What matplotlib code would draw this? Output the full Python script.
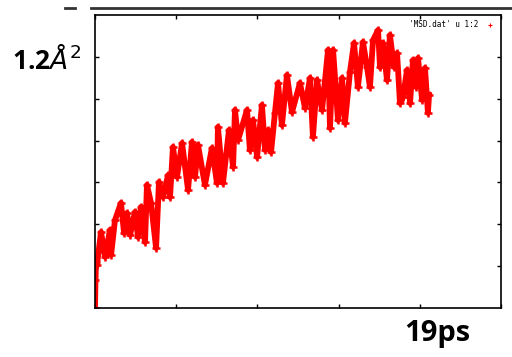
import matplotlib.pyplot as plt
from matplotlib.lines import Line2D

# MSD trace (time in ps, MSD in A^2)
time_ps = [0.00, 0.03, 0.06, 0.12, 0.37, 0.62, 0.92, 0.99, 1.23, 1.60, 1.79, 1.97,
           2.16, 2.46, 2.65, 2.83, 3.08, 3.20, 3.45, 3.76, 3.94, 4.19, 4.50, 4.62,
           4.80, 5.05, 5.36, 5.73, 5.97, 6.16, 6.34, 6.77, 7.20, 7.51, 7.57, 7.88,
           8.25, 8.50, 8.62, 8.81, 9.36, 9.54, 9.73, 9.98, 10.28, 10.47, 10.65, 10.84,
           11.08, 11.27, 11.51, 11.82, 12.13, 12.62, 12.93, 13.24, 13.42, 13.67, 13.98,
           14.35, 14.47, 14.66, 14.96, 15.21, 15.39, 15.70, 15.95, 16.19, 16.50, 16.75,
           16.93, 17.12, 17.43, 17.55, 17.73, 17.98, 18.16, 18.41, 18.60, 18.78, 18.97,
           19.21, 19.40, 19.58, 19.77, 19.89, 20.14, 20.32, 20.50, 20.57]
msd = [0.000, 0.134, 0.220, 0.205, 0.363, 0.244, 0.373, 0.253, 0.420, 0.502, 0.358, 0.454,
       0.349, 0.459, 0.339, 0.483, 0.315, 0.588, 0.502, 0.287, 0.602, 0.530, 0.635, 0.530,
       0.769, 0.626, 0.788, 0.564, 0.793, 0.626, 0.779, 0.588, 0.764, 0.597, 0.865, 0.597,
       0.850, 0.674, 0.946, 0.803, 0.946, 0.755, 0.898, 0.721, 0.970, 0.755, 0.850, 0.745,
       0.932, 1.075, 0.874, 1.113, 0.936, 1.075, 0.956, 1.099, 0.817, 1.089, 0.946,
       1.233, 0.860, 1.233, 0.898, 1.099, 0.884, 1.128, 1.266, 1.056, 1.271, 1.151,
       1.056, 1.280, 1.328, 1.151, 1.266, 1.089, 1.304, 1.151, 1.218, 0.979, 1.008,
       1.137, 0.979, 1.185, 1.056, 1.194, 0.994, 1.147, 0.932, 1.018]

fig = plt.figure(figsize=(5.12, 3.57), dpi=100)
ax = fig.add_axes([95 / 512, 49 / 357, 406 / 512, 293 / 357])

ax.plot(time_ps, msd, color="red", linewidth=4.2, marker="+", markersize=6,
        markeredgewidth=1.8, solid_joinstyle="round")

ax.set_xlim(0, 25)
ax.set_ylim(0, 1.4)
ax.set_xticks([0, 5, 10, 15, 20, 25])
ax.set_yticks([0.2, 0.4, 0.6, 0.8, 1.0, 1.2])
ax.tick_params(direction="in", length=3, width=1, top=True, right=True,
               labelbottom=False, labelleft=False)
for s in ax.spines.values():
    s.set_linewidth(1.2)

h = Line2D([], [], color="red", linestyle="none", marker="+", markersize=3, markeredgewidth=0.8)
ax.legend([h], ["'MSD.dat' u 1:2"], loc="upper right", frameon=False, markerfirst=False,
          prop={"family": "DejaVu Sans Mono", "size": 5.5}, handlelength=1.5,
          borderaxespad=0.3)

# slide decorations
fig.add_artist(Line2D([91 / 512, 1.0], [1 - 8 / 357, 1 - 8 / 357], color="#333333", linewidth=2))
fig.add_artist(Line2D([65 / 512, 75 / 512], [1 - 8 / 357, 1 - 8 / 357], color="#333333", linewidth=2))

fig.text(47 / 512, 1 - 60 / 357, r"1.2$\mathit{Å}^{2}$", fontsize=19, fontweight="bold",
         family="Open Sans", ha="center", va="center")
fig.text(437 / 512, 1 - 333 / 357, "19ps", fontsize=21, fontweight="bold",
         family="Open Sans", ha="center", va="center")

fig.savefig("out.png", dpi=100)
